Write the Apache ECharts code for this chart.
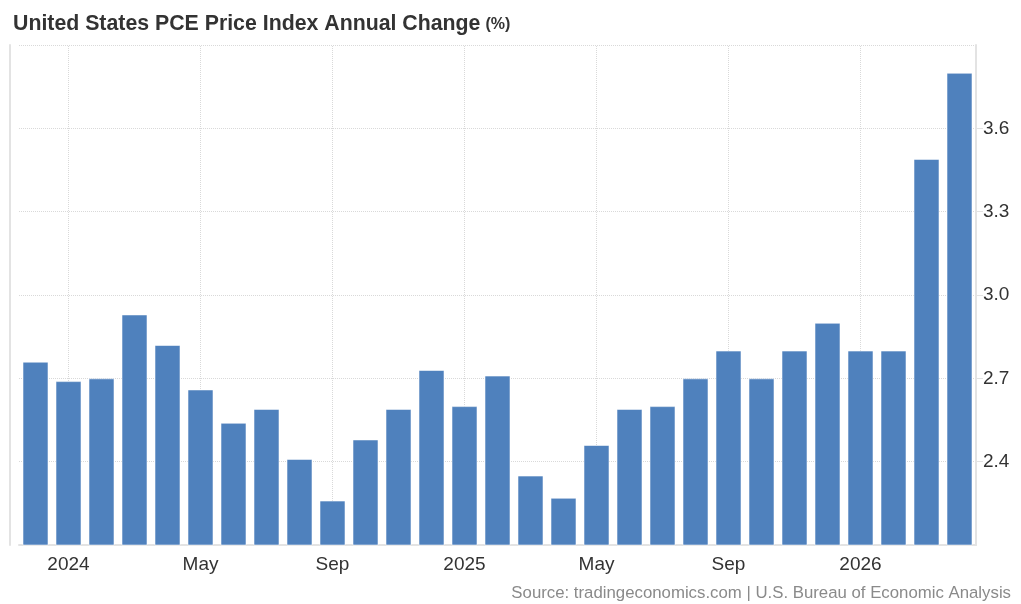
<!DOCTYPE html>
<html>
<head>
<meta charset="utf-8">
<script src="https://cdn.jsdelivr.net/npm/echarts@6/dist/echarts.min.js"></script>
<style>
  html, body { margin: 0; padding: 0; background: #fff; }
</style>
</head>
<body>
<div id="main" style="width: 1021px; height: 604px;"></div>
<script>
// months shown on the x axis, Dec 2023 .. Apr 2026
var months = [
  'Dec 2023',
  'Jan 2024', 'Feb 2024', 'Mar 2024', 'Apr 2024', 'May 2024', 'Jun 2024',
  'Jul 2024', 'Aug 2024', 'Sep 2024', 'Oct 2024', 'Nov 2024', 'Dec 2024',
  'Jan 2025', 'Feb 2025', 'Mar 2025', 'Apr 2025', 'May 2025', 'Jun 2025',
  'Jul 2025', 'Aug 2025', 'Sep 2025', 'Oct 2025', 'Nov 2025', 'Dec 2025',
  'Jan 2026', 'Feb 2026', 'Mar 2026', 'Apr 2026'
]
// annual change, %
var pceValues = [
  2.76,
  2.69, 2.70, 2.93, 2.82, 2.66, 2.54,
  2.59, 2.41, 2.26, 2.48, 2.59, 2.73,
  2.60, 2.71, 2.35, 2.27, 2.46, 2.59,
  2.60, 2.70, 2.80, 2.70, 2.80, 2.90,
  2.80, 2.80, 3.49, 3.80
]
// months that get a label and a vertical grid line
var labelMonths = ['Jan 2024', 'May 2024', 'Sep 2024', 'Jan 2025', 'May 2025', 'Sep 2025', 'Jan 2026']
var yMin = 2.1
var yMax = 3.9
var yStep = 0.3

var gridColor = '#d9d9d9'
var font = '"Liberation Sans", Arial, sans-serif'

var chart = echarts.init(document.getElementById('main'))
chart.setOption({
  animation: false,
  title: [
    {
      text: '{a|United States PCE Price Index Annual Change} {b|(%)}',
      left: 8,
      top: 9,
      textStyle: {
        rich: {
          a: { fontFamily: font, fontSize: 21.3, fontWeight: 'bold', color: '#333333' },
          b: { fontFamily: font, fontSize: 16, fontWeight: 'bold', color: '#333333' }
        }
      }
    },
    {
      text: 'Source: tradingeconomics.com | U.S. Bureau of Economic Analysis',
      right: 5,
      top: 580,
      textStyle: { fontFamily: font, fontSize: 16.8, fontWeight: 'normal', color: '#8a8a8a' }
    }
  ],
  grid: { left: 19, right: 45, top: 45, bottom: 59 },
  xAxis: {
    type: 'category',
    data: months,
    axisLine: { lineStyle: { color: '#e3e3e3', width: 2 } },
    axisTick: { show: false },
    splitLine: { show: false },
    axisLabel: {
      interval: function (i, v) { return labelMonths.indexOf(v) >= 0 },
      formatter: function (v) {
        var p = v.split(' ')
        return p[0] === 'Jan' ? p[1] : p[0]
      },
      margin: 10,
      fontFamily: font,
      fontSize: 19,
      color: '#333333'
    }
  },
  yAxis: [
    {
      type: 'value',
      position: 'right',
      min: yMin,
      max: yMax,
      interval: yStep,
      axisLine: { show: true, lineStyle: { color: '#e3e3e3', width: 2 } },
      axisTick: { show: true, length: 7, lineStyle: { color: '#e3e3e3' } },
      axisLabel: {
        showMinLabel: false,
        showMaxLabel: false,
        margin: 7,
        fontFamily: font,
        fontSize: 19,
        color: '#333333',
        formatter: function (v) { return v.toFixed(1) }
      },
      splitLine: { lineStyle: { color: gridColor, type: 'dotted', width: 1 } }
    },
    {
      type: 'value',
      position: 'left',
      offset: 9,
      min: yMin,
      max: yMax,
      interval: yStep,
      axisLine: { show: true, lineStyle: { color: '#e3e3e3', width: 2 } },
      axisTick: { show: false },
      axisLabel: { show: false },
      splitLine: { show: false }
    }
  ],
  series: [
    {
      name: 'PCE Price Index Annual Change',
      type: 'bar',
      z: 3,
      data: pceValues,
      barWidth: 26,
      itemStyle: {
        color: '#4f81bd',
        borderColor: 'rgba(255,255,255,0.55)',
        borderWidth: 1
      },
      // vertical dotted grid lines at the labelled months, kept under the bars
      markLine: {
        z: 1,
        silent: true,
        symbol: 'none',
        label: { show: false },
        lineStyle: { color: gridColor, type: 'dotted', width: 1 },
        data: labelMonths.map(function (m) { return { xAxis: m } })
      }
    }
  ]
})
</script>
</body>
</html>
